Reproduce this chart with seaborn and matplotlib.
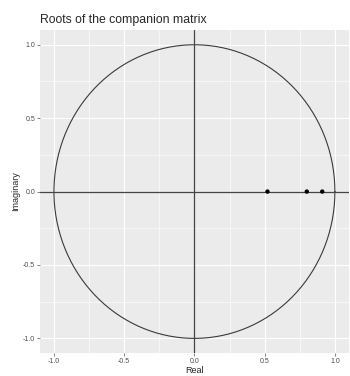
import numpy as np
import pandas as pd
import matplotlib
matplotlib.use("Agg")
import matplotlib.pyplot as plt
import seaborn as sns

# Roots of the companion matrix (all real)
root_real = [0.52, 0.80, 0.91]
root_imag = [0.0, 0.0, 0.0]
tick_values = [-1.0, -0.5, 0.0, 0.5, 1.0]
tick_labels = ["-1.0", "-0.5", "0.0", "0.5", "1.0"]

sns.set_theme(style="darkgrid", rc={
    "axes.facecolor": "#EBEBEB",
    "grid.color": "white",
})
plt.rcParams["font.family"] = ["Liberation Sans", "DejaVu Sans"]

fig = plt.figure(figsize=(3.5, 3.76), dpi=100)
ax = fig.add_axes([0.114, 0.061, 0.883, 0.859])

# unit circle
theta = np.linspace(0, 2 * np.pi, 400)
circle = pd.DataFrame({"x": np.cos(theta), "y": np.sin(theta)})
sns.lineplot(data=circle, x="x", y="y", sort=False, estimator=None,
             color="#3A3A3A", linewidth=0.8, ax=ax)

ax.axhline(0, color="#444444", linewidth=0.9, zorder=2)
ax.axvline(0, color="#444444", linewidth=0.9, zorder=2)

roots = pd.DataFrame({"Real": root_real, "Imaginary": root_imag})
sns.scatterplot(data=roots, x="Real", y="Imaginary", color="black",
                s=10, edgecolor="none", zorder=3, ax=ax)

ax.set_xlim(-1.1, 1.1)
ax.set_ylim(-1.1, 1.1)
ax.set_xticks(tick_values)
ax.set_xticklabels(tick_labels)
ax.set_yticks(tick_values)
ax.set_yticklabels(tick_labels)
ax.set_xticks([-0.75, -0.25, 0.25, 0.75], minor=True)
ax.set_yticks([-0.75, -0.25, 0.25, 0.75], minor=True)
ax.grid(which="major", color="white", linewidth=0.8)
ax.grid(which="minor", color="white", linewidth=0.4)
ax.tick_params(axis="both", which="major", labelsize=5, colors="#4D4D4D",
               length=2, width=0.5, pad=1.5, left=True, bottom=True)
ax.tick_params(axis="both", which="minor", length=0)
for sp in ax.spines.values():
    sp.set_visible(False)

ax.set_xlabel("Real", fontsize=6.5, labelpad=1)
ax.set_ylabel("Imaginary", fontsize=6.5, labelpad=2)
ax.set_title("Roots of the companion matrix", fontsize=8.8, loc="left", pad=5)

fig.savefig("out.png", dpi=100)
